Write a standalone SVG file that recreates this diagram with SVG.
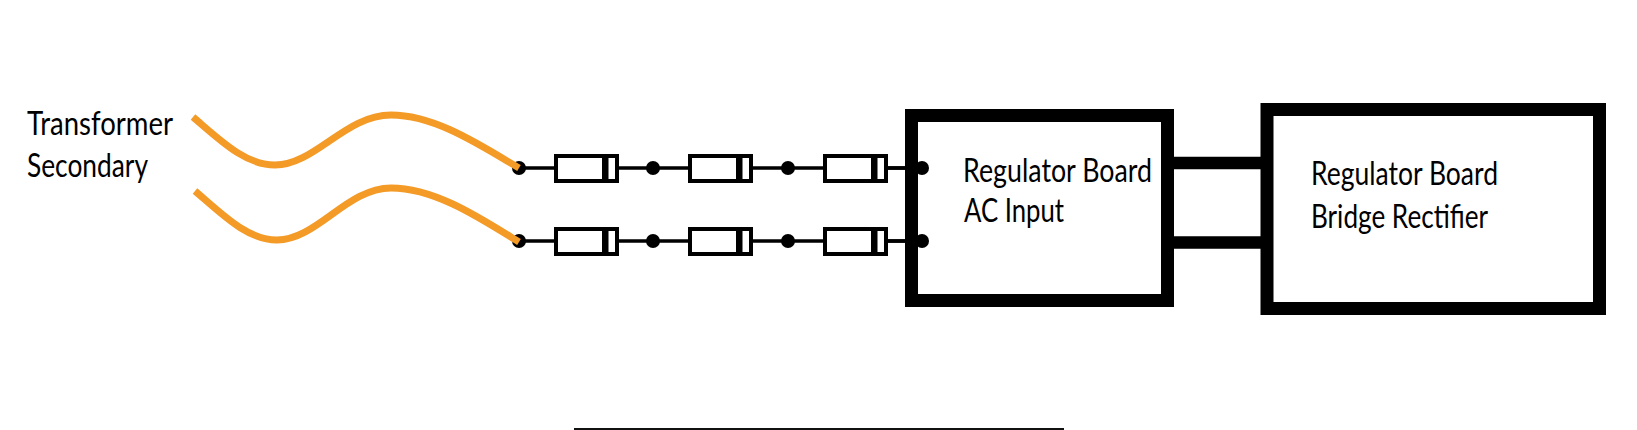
<svg xmlns="http://www.w3.org/2000/svg" width="1637" height="430" viewBox="0 0 1637 430">
<defs>
<style>
.box{fill:#fff;stroke:#000;stroke-width:13}
.bus{fill:none;stroke:#000;stroke-width:12.5}
.wire{fill:none;stroke:#000;stroke-width:3.5}
.lead{fill:none;stroke:#F39A27;stroke-width:7}
.dot{fill:#000}
.body{fill:#fff;stroke:#000;stroke-width:4}
.band{fill:#000}
text{font-family:"Lato","Liberation Sans",sans-serif;font-size:33px;fill:#000}
</style>
<g id="diode"><rect class="body" x="0" y="-12" width="61" height="25"/><rect class="band" x="46" y="-12" width="6.500" height="25"/></g>
</defs>
<rect width="1637" height="430" fill="#fff"/>
<g id="connectors">
<path class="bus" d="M1174 163H1261M1174 242.500H1261"/>
<path class="wire" d="M519 168H912M519 241H912"/>
<path d="M574 429H1064" stroke="#111" stroke-width="2" fill="none"/>
</g>
<g id="label-transformer"><text x="27" y="135" textLength="146" lengthAdjust="spacingAndGlyphs">Transformer</text><text x="27" y="177" textLength="121" lengthAdjust="spacingAndGlyphs">Secondary</text></g>
<g id="top-terminals"><circle class="dot" cx="519" cy="168" r="7"/><circle class="dot" cx="653" cy="168" r="7"/><circle class="dot" cx="788" cy="168" r="7"/></g>
<g id="bottom-terminals"><circle class="dot" cx="519" cy="241" r="7"/><circle class="dot" cx="653" cy="241" r="7"/><circle class="dot" cx="788" cy="241" r="7"/></g>
<g id="leads">
<path class="lead" d="M193 117C220 140 245 165 275 165C315 165 345 115 391 115C435 115 480 145 519 168"/>
<path class="lead" d="M195 191C222 214 247 240 277 240C317 240 347 188 391 188C435 188 480 218 519 242"/>
</g>
<g id="diodes-top"><use href="#diode" x="556" y="168"/><use href="#diode" x="690" y="168"/><use href="#diode" x="825" y="168"/></g>
<g id="diodes-bottom"><use href="#diode" x="556" y="241"/><use href="#diode" x="690" y="241"/><use href="#diode" x="825" y="241"/></g>
<g id="ac-input"><rect class="box" x="911.500" y="115.500" width="256" height="185"/><path class="wire" d="M887 168H918M887 241H918"/><circle class="dot" cx="922" cy="168" r="7"/><circle class="dot" cx="922" cy="241" r="7"/><text x="963" y="182" textLength="189" lengthAdjust="spacingAndGlyphs">Regulator Board</text><text x="964" y="222" textLength="100" lengthAdjust="spacingAndGlyphs">AC Input</text></g>
<g id="bridge-rectifier"><rect class="box" x="1267" y="109.500" width="332.500" height="199"/><text x="1311" y="185" textLength="187" lengthAdjust="spacingAndGlyphs">Regulator Board</text><text x="1311" y="228" textLength="177" lengthAdjust="spacingAndGlyphs">Bridge Rectifier</text></g>
</svg>
